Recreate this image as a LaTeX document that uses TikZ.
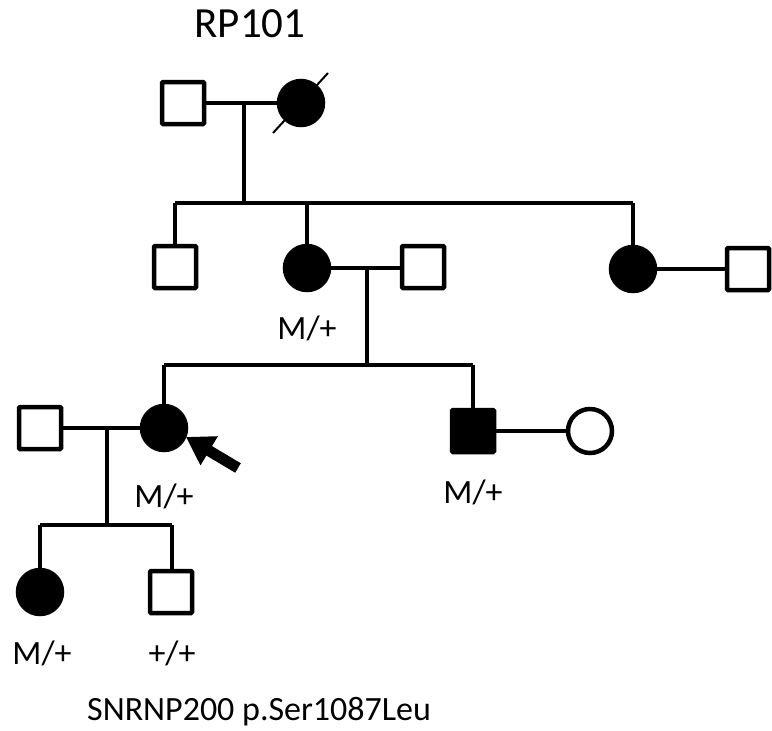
\documentclass[tikz,border=0pt]{standalone}
\usepackage{fontspec}
\setmainfont{Carlito}
\usetikzlibrary{arrows.meta}
\begin{document}
\begin{tikzpicture}[x=1pt,y=-1pt,
  male/.style={draw,line width=4.5pt,rounded corners=1pt,minimum size=42pt,inner sep=0pt,fill=white},
  female/.style={draw,circle,line width=4.5pt,minimum size=44pt,inner sep=0pt,fill=white},
  aff/.style={fill=black},
  lnk/.style={line width=3.2pt},
  lbl/.style={font=\fontsize{34}{40}\selectfont,inner sep=0pt}]
\useasboundingbox (0,0) rectangle (772,731);
% Generation I
\node[lbl,font=\fontsize{43}{48}\selectfont] (title) at (250,24) {RP101};
\coordinate (m1) at (244,103);
\coordinate (s1) at (244,203);
\draw[lnk] (183,103) -- (301,103);
\draw[lnk] (m1) -- (s1);
\node[male] (I1) at (183,103) {};
\node[female,aff] (I2) at (301,103) {};
\draw[line width=2pt] (273,133) -- (328,73);
% Generation II
\coordinate (s2l) at (175,203);
\coordinate (s2r) at (633,203);
\draw[lnk] (s2l) -- (s2r);
\draw[lnk] (s2l) -- (175,267);
\draw[lnk] (307,203) -- (307,268);
\draw[lnk] (s2r) -- (633,269);
\draw[lnk] (307,268) -- (423,268);
\draw[lnk] (633,269) -- (749,269);
\coordinate (m2) at (367,268);
\coordinate (s3) at (367,365);
\draw[lnk] (m2) -- (s3);
\node[male] (II1) at (175,267) {};
\node[female,aff] (II2) at (307,268) {};
\node[male] (II3) at (423,267) {};
\node[female,aff] (II4) at (633,269) {};
\node[male] (II5) at (748,269) {};
\node[lbl] (l2) at (307,328) {M/+};
% Generation III
\coordinate (s3l) at (164,365);
\coordinate (s3r) at (473,365);
\draw[lnk] (s3l) -- (s3r);
\draw[lnk] (s3l) -- (164,428);
\draw[lnk] (s3r) -- (473,431);
\draw[lnk] (40,428) -- (164,428);
\draw[lnk] (473,431) -- (590,431);
\coordinate (m3) at (107,428);
\coordinate (s4) at (107,525);
\draw[lnk] (m3) -- (s4);
\node[male] (III1) at (40,428) {};
\node[female,aff] (III2) at (164,428) {};
\node[male,aff] (III3) at (473,431) {};
\node[female] (III4) at (590,431) {};
\node[lbl] (l3a) at (164,496) {M/+};
\node[lbl] (l3b) at (473,492) {M/+};
\coordinate (arrS) at (238,468);
\coordinate (arrE) at (186,437);
\draw[line width=11pt,-{Triangle[length=27pt,width=32pt]}] (arrS) -- (arrE);
% Generation IV
\coordinate (s4l) at (40,525);
\coordinate (s4r) at (172,525);
\draw[lnk] (s4l) -- (s4r);
\draw[lnk] (s4l) -- (40,592);
\draw[lnk] (s4r) -- (172,592);
\node[female,aff] (IV1) at (40,592) {};
\node[male] (IV2) at (171,592) {};
\node[lbl] (l4a) at (42,653) {M/+};
\node[lbl] (l4b) at (172,653) {+/+};
\node[lbl,anchor=west] (gene) at (87,712) {SNRNP200 p.Ser1087Leu};
\end{tikzpicture}
\end{document}
